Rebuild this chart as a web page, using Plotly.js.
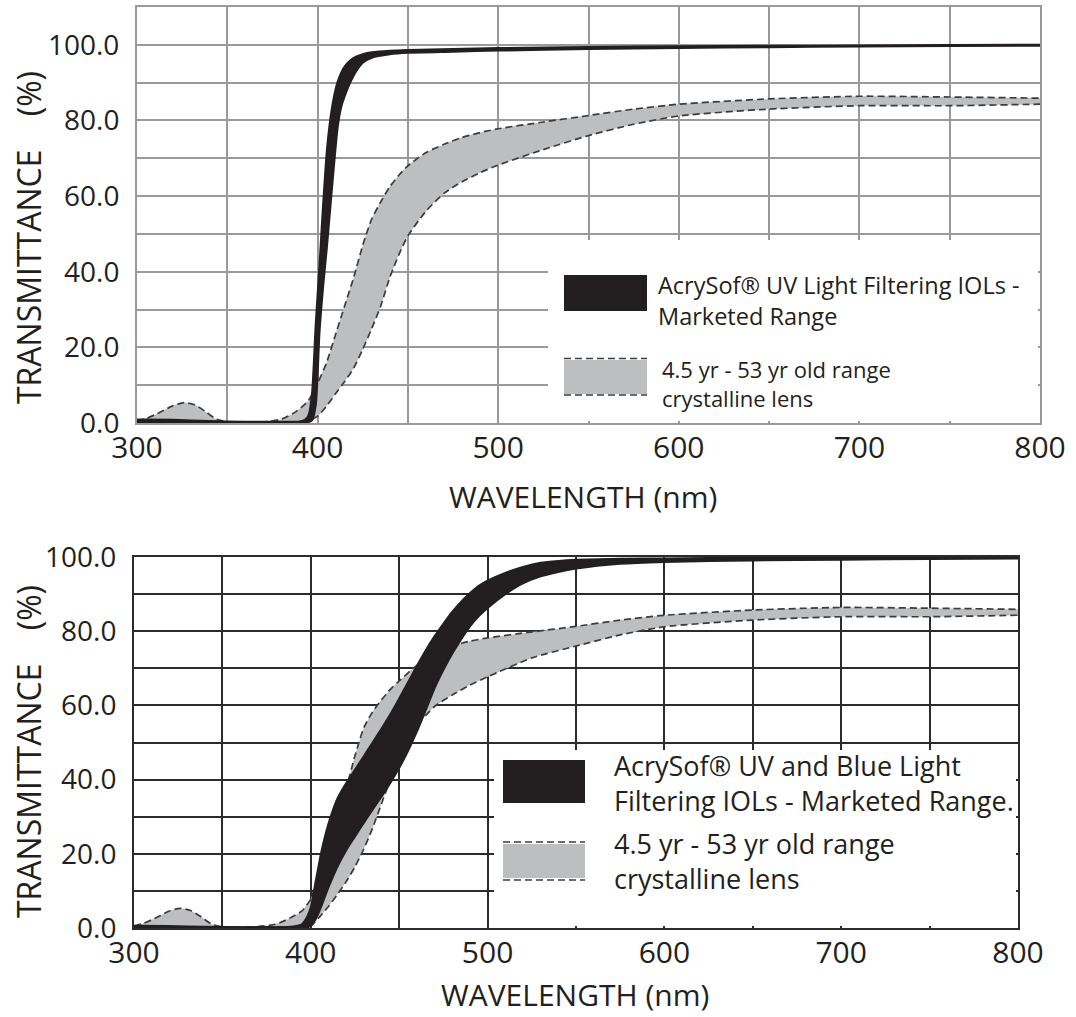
<!DOCTYPE html>
<html>
<head>
<meta charset="utf-8">
<script src="https://cdn.plot.ly/plotly-3.0.1.min.js"></script>
<style>
  html, body { margin: 0; padding: 0; background: #ffffff; }
  #chart { width: 1076px; height: 1017px; }
</style>
</head>
<body>
<div id="chart"></div>
<script>
// ---------------- DATA ----------------
// Crystalline lens (4.5 yr - 53 yr) range, top chart
const lensNm = [300, 305, 310, 315, 320, 326, 332, 338, 344, 350, 360, 370, 380, 388, 395, 400, 405, 410, 415, 420, 425, 430, 435, 440, 445, 450, 460, 470, 480, 490, 500, 525, 550, 575, 600, 650, 700, 750, 800];
const lensUpperTop = [0.5, 1.2, 2.2, 3.4, 4.6, 5.4, 4.8, 3.0, 1.0, 0.3, 0.2, 0.3, 1.0, 3.0, 6.0, 10.5, 16, 23.5, 31, 38.5, 47, 54, 58.5, 62.5, 65.5, 68, 71.5, 73.7, 75.5, 76.8, 77.8, 79.6, 81.3, 83, 84.3, 85.7, 86.4, 86.2, 85.9];
const lensLowerTop = [0.3, 0.3, 0.3, 0.3, 0.3, 0.3, 0.3, 0.3, 0.3, 0.3, 0.3, 0.3, 0.3, 0.3, 0.6, 1.8, 4.5, 7.8, 11, 14.5, 19.5, 25, 31, 38.5, 44.5, 49.5, 56, 60.7, 63.8, 66.2, 68.2, 72.3, 76, 79, 81.2, 83, 83.9, 83.9, 84.3];
// Crystalline lens range, bottom chart
const lensUpperBottom = [0.5, 1.2, 2.2, 3.4, 4.6, 5.3, 4.7, 3.0, 1.0, 0.3, 0.2, 0.4, 1.0, 2.6, 4.6, 7.8, 15.5, 23.5, 30.5, 37.5, 46.5, 54, 58.3, 61.5, 64.3, 66.6, 70.8, 73.8, 76, 77.3, 78.2, 79.8, 81.3, 83, 84.3, 85.7, 86.4, 86.2, 85.9];
const lensLowerBottom = [0.3, 0.3, 0.3, 0.3, 0.3, 0.3, 0.3, 0.3, 0.3, 0.3, 0.3, 0.3, 0.3, 0.3, 0.3, 0.6, 3, 5.8, 9, 12.5, 16.5, 21.3, 27, 33.5, 40, 45.5, 54.5, 59.7, 62.8, 65.5, 67.7, 72.8, 76, 79, 81.2, 83, 83.9, 83.9, 84.3];

// AcrySof UV Light Filtering IOLs - marketed range (top chart)
const uvNm = [300, 320, 340, 360, 380, 390, 393, 395, 397, 399, 401, 403, 405, 407, 409, 411, 413, 415, 418, 421, 425, 430, 440, 450, 475, 500, 550, 600, 650, 700, 750, 800];
const uvUpper = [0.9, 0.8, 0.5, 0.3, 0.3, 0.4, 0.8, 2, 8, 26, 41, 57, 71, 80, 86, 90, 92.5, 94.2, 95.8, 96.8, 97.5, 98, 98.4, 98.6, 98.9, 99.1, 99.4, 99.6, 99.7, 99.8, 99.9, 100];
const uvLower = [0.2, 0.3, 0.2, 0.1, 0.1, 0.1, 0.2, 0.3, 0.8, 5, 24, 36, 46, 57, 68, 78, 83.5, 86.5, 90, 92.8, 95.3, 96.6, 97.5, 97.9, 98.2, 98.5, 98.9, 99.2, 99.4, 99.6, 99.7, 99.8];

// AcrySof UV and Blue Light Filtering IOLs - marketed range (bottom chart)
const blueNm = [300, 320, 340, 360, 380, 390, 395, 398, 400, 403, 406, 410, 415, 420, 425, 430, 435, 440, 445, 450, 455, 460, 465, 470, 475, 480, 485, 490, 495, 500, 510, 520, 530, 540, 550, 575, 600, 650, 700, 750, 800];
const blueUpper = [0.6, 0.5, 0.3, 0.2, 0.2, 0.4, 1.0, 3, 5.5, 13, 20.5, 28, 34.8, 39, 42.6, 46.3, 50, 53.7, 57.6, 61.8, 66.2, 70.6, 74.8, 78.6, 82, 85.2, 87.9, 90.2, 92.2, 93.6, 95.7, 97.3, 98.4, 98.9, 99.2, 99.5, 99.6, 99.8, 99.9, 100, 100];
const blueLower = [0.2, 0.2, 0.1, 0.1, 0.1, 0.1, 0.1, 0.2, 0.6, 2.7, 6, 11, 16.5, 21, 24.7, 28.4, 32, 35.5, 39.2, 43.2, 47.8, 53, 58.8, 64.7, 69.6, 74, 77.8, 81.3, 84.1, 86.3, 90, 92.9, 94.8, 96, 96.9, 98.2, 98.7, 99.1, 99.3, 99.5, 99.6];

// Tick labels
const xTickVals = [300, 350, 400, 450, 500, 550, 600, 650, 700, 750, 800];
const xTickText = ['300', '', '400', '', '500', '', '600', '', '700', '', '800'];
const yTickValsTop = [0, 10, 20, 30, 40, 50, 60, 70, 80, 90, 100, 110];
const yTickTextTop = ['0.0', '', '20.0', '', '40.0', '', '60.0', '', '80.0', '', '100.0', ''];
const yTickValsBottom = [0, 10, 20, 30, 40, 50, 60, 70, 80, 90, 100];
const yTickTextBottom = ['0.0', '', '20.0', '', '40.0', '', '60.0', '', '80.0', '', '100.0'];

// Texts
const xTitle = 'WAVELENGTH (nm)';
const yTitle = 'TRANSMITTANCE\u00a0\u00a0\u00a0\u00a0(%)';
const legendTop1 = ['AcrySof\u00ae UV Light Filtering IOLs -', 'Marketed Range'];
const legendBottom1 = ['AcrySof\u00ae UV and Blue Light', 'Filtering IOLs - Marketed Range.'];
const legendLens = ['4.5 yr - 53 yr old range', 'crystalline lens'];

// ---------------- STYLE ----------------
const W = 1076, H = 1017;
const INK = '#231f20';
const GRAY = '#bcbec0';
const DASHC = '#3c3c3c';
const DASH = '7px,4px';
const FONT = 'Open Sans, Noto Sans, sans-serif';
const px = v => v / W;
const py = v => 1 - v / H;

function band(x, lo, hi, xa, ya, color, fillcolor, dash, width) {
  return [
    { x: x, y: lo, xaxis: xa, yaxis: ya, type: 'scatter', mode: 'lines',
      line: { color: color, width: width, dash: dash, shape: 'spline', smoothing: 0.6 }, hoverinfo: 'skip' },
    { x: x, y: hi, xaxis: xa, yaxis: ya, type: 'scatter', mode: 'lines', fill: 'tonexty', fillcolor: fillcolor,
      line: { color: color, width: width, dash: dash, shape: 'spline', smoothing: 0.6 }, hoverinfo: 'skip' }
  ];
}

const traces = [].concat(
  band(lensNm, lensLowerTop, lensUpperTop, 'x', 'y', DASHC, GRAY, DASH, 1.7),
  band(uvNm, uvLower, uvUpper, 'x', 'y', INK, INK, 'solid', 2.2),
  band(lensNm, lensLowerBottom, lensUpperBottom, 'x2', 'y2', DASHC, GRAY, DASH, 1.7),
  band(blueNm, blueLower, blueUpper, 'x2', 'y2', INK, INK, 'solid', 2.2)
);

function xAxis(domain, anchor, col, gw) {
  return {
    domain: domain, anchor: anchor, range: [300, 800], tickmode: 'array',
    tickvals: xTickVals, ticktext: xTickText, showgrid: true, gridcolor: col, gridwidth: gw,
    showline: true, mirror: true, linecolor: col, linewidth: 2, zeroline: false, ticks: '',
    ticklabelstandoff: -3, tickfont: { family: FONT, size: 30, color: INK }, fixedrange: true
  };
}
function yAxis(domain, anchor, col, gw, range, vals, text) {
  return {
    domain: domain, anchor: anchor, range: range, tickmode: 'array',
    tickvals: vals, ticktext: text, showgrid: true, gridcolor: col, gridwidth: gw,
    showline: true, mirror: true, linecolor: col, linewidth: 2, zeroline: false, ticks: '',
    ticklabelstandoff: 10, tickfont: { family: FONT, size: 28, color: INK }, fixedrange: true
  };
}

function rect(x0, y0, x1, y1, fill) {
  return { type: 'rect', xref: 'paper', yref: 'paper', x0: px(x0), x1: px(x1), y0: py(y1), y1: py(y0),
    fillcolor: fill, line: { width: 0 }, layer: 'above' };
}
function hline(x0, x1, y) {
  return { type: 'line', xref: 'paper', yref: 'paper', x0: px(x0), x1: px(x1), y0: py(y), y1: py(y),
    line: { color: DASHC, width: 1.7, dash: DASH }, layer: 'above' };
}
function label(text, x, y, size, opts) {
  return Object.assign({ text: text, xref: 'paper', yref: 'paper', x: px(x), y: py(y),
    xanchor: 'left', yanchor: 'middle', align: 'left', showarrow: false,
    font: { family: FONT, size: size, color: INK } }, opts || {});
}

const shapes = [
  // top legend
  rect(548, 240, 1038, 421, '#ffffff'),
  rect(564, 275, 647, 311, INK),
  rect(564, 360, 647, 394, GRAY),
  hline(564, 647, 358.5), hline(564, 647, 395),
  // bottom legend
  rect(494, 750, 1016, 926, '#ffffff'),
  rect(503, 760, 585, 803, INK),
  rect(503, 844, 585, 878, GRAY),
  hline(503, 585, 842), hline(503, 585, 880)
];

const annotations = [
  label(legendTop1.join('<br>'), 656, 301, 23.5),
  label(legendLens.join('<br>'), 660, 383.5, 22),
  label(legendBottom1.join('<br>'), 612, 783, 27),
  label(legendLens.join('<br>'), 612, 861, 27),
  label(xTitle, 583, 496, 30, { xanchor: 'center' }),
  label(xTitle, 575, 994, 30, { xanchor: 'center' }),
  label(yTitle, 28, 238, 32, { xanchor: 'center', textangle: -90 }),
  label(yTitle, 28, 752, 32, { xanchor: 'center', textangle: -90 })
];

const layout = {
  width: W, height: H, margin: { l: 0, r: 0, t: 0, b: 0 },
  paper_bgcolor: '#ffffff', plot_bgcolor: '#ffffff', showlegend: false, hovermode: false,
  xaxis: xAxis([137 / W, 1040 / W], 'y', '#9a9a9a', 2),
  yaxis: yAxis([1 - 423 / H, 1 - 7 / H], 'x', '#9a9a9a', 2, [0, 110], yTickValsTop, yTickTextTop),
  xaxis2: xAxis([134 / W, 1018 / W], 'y2', '#2b2b2b', 2),
  yaxis2: yAxis([1 - 928 / H, 1 - 557 / H], 'x2', '#2b2b2b', 2, [0, 100], yTickValsBottom, yTickTextBottom),
  shapes: shapes,
  annotations: annotations
};

Plotly.newPlot('chart', traces, layout, { staticPlot: true, displayModeBar: false });
</script>
</body>
</html>
